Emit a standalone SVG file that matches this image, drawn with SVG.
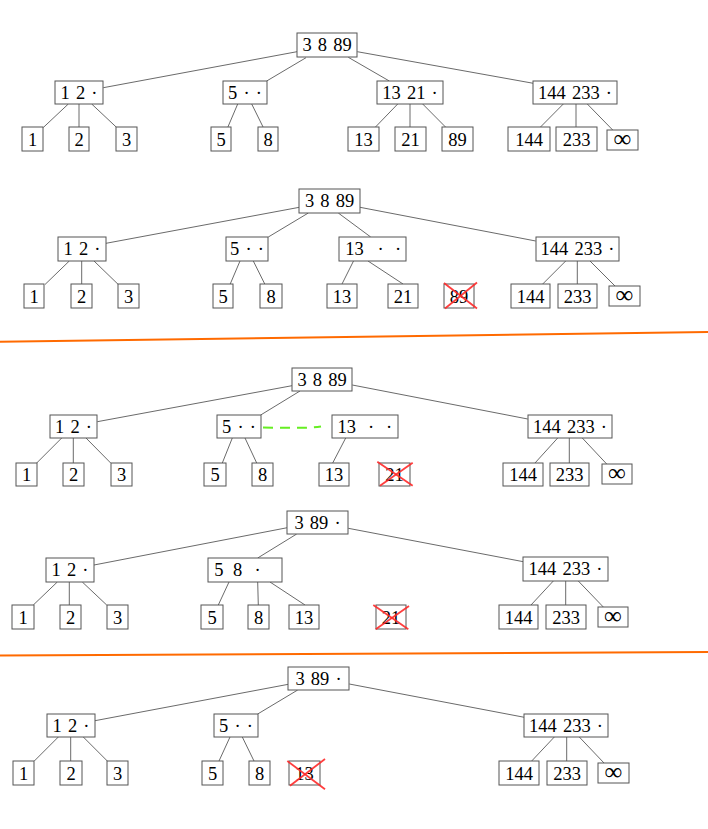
<svg xmlns="http://www.w3.org/2000/svg" width="708" height="829" viewBox="0 0 708 829">
<style>
.box{fill:#fff;stroke:#555;stroke-width:1}
.t{font-family:"Liberation Serif","Times New Roman",serif;font-size:18.5px;text-anchor:middle;fill:#000;word-spacing:1.5px}
.inf{font-family:"Liberation Serif","Times New Roman",serif;font-size:25px;text-anchor:middle;fill:#000}
.e{stroke:#444;stroke-width:0.8;fill:none}
.x{stroke:#ff2a2a;stroke-width:1.8;opacity:0.9}
.sep{stroke:#ff6a00;stroke-width:2}
.g{stroke:#66ee22;stroke-width:2;stroke-dasharray:10 7;fill:none}
</style>
<rect width="708" height="829" fill="#fff"/>
<g id="separators">
<line class="sep" x1="0" y1="341.7" x2="708" y2="332"/>
<line class="sep" x1="0" y1="655.5" x2="708" y2="652"/>
</g>
<g id="connectors">
<!-- tree 1 -->
<line class="e" x1="297" y1="51.7" x2="103.3" y2="87.7"/>
<line class="e" x1="306" y1="57.7" x2="266.7" y2="81"/>
<line class="e" x1="348.3" y1="57.3" x2="389.3" y2="81"/>
<line class="e" x1="357.3" y1="51.7" x2="533.3" y2="83.3"/>
<line class="e" x1="68.3" y1="104" x2="43.3" y2="127.5"/>
<line class="e" x1="79" y1="104" x2="79" y2="127"/>
<line class="e" x1="91.7" y1="104" x2="116.7" y2="127.5"/>
<line class="e" x1="237.7" y1="104" x2="227.7" y2="127.5"/>
<line class="e" x1="251.7" y1="104" x2="263.3" y2="127.5"/>
<line class="e" x1="397.7" y1="104" x2="375" y2="127.5"/>
<line class="e" x1="410" y1="104" x2="410" y2="127"/>
<line class="e" x1="422.7" y1="104" x2="446" y2="127.5"/>
<line class="e" x1="563.3" y1="104" x2="540" y2="127.5"/>
<line class="e" x1="576" y1="104" x2="576" y2="127"/>
<line class="e" x1="587.3" y1="104" x2="612.7" y2="130"/>
<!-- tree 2 -->
<line class="e" x1="299.3" y1="207.3" x2="106" y2="243.3"/>
<line class="e" x1="308.3" y1="213" x2="268.3" y2="237"/>
<line class="e" x1="338.3" y1="213" x2="370.7" y2="237"/>
<line class="e" x1="360" y1="207.3" x2="535.7" y2="241"/>
<line class="e" x1="69.3" y1="261" x2="45" y2="284.5"/>
<line class="e" x1="81.7" y1="261" x2="81.7" y2="284"/>
<line class="e" x1="94" y1="261" x2="118.3" y2="284.5"/>
<line class="e" x1="240" y1="261" x2="230" y2="284.5"/>
<line class="e" x1="253.3" y1="261" x2="265" y2="284.5"/>
<line class="e" x1="353.5" y1="261" x2="342" y2="284"/>
<line class="e" x1="368" y1="261" x2="403" y2="284"/>
<line class="e" x1="565.7" y1="261" x2="542.7" y2="284"/>
<line class="e" x1="577.3" y1="261" x2="577.3" y2="284"/>
<line class="e" x1="590" y1="261" x2="615" y2="286"/>
<!-- tree 3 -->
<line class="e" x1="292" y1="385.7" x2="97.3" y2="421.7"/>
<line class="e" x1="300" y1="391" x2="260.7" y2="415"/>
<line class="e" x1="352.3" y1="385" x2="527.7" y2="419"/>
<line class="e" x1="61.7" y1="438" x2="36.7" y2="463"/>
<line class="e" x1="73.3" y1="438" x2="73.3" y2="463"/>
<line class="e" x1="86" y1="438" x2="110.7" y2="463"/>
<line class="e" x1="232.3" y1="438" x2="222.3" y2="463"/>
<line class="e" x1="245" y1="438" x2="256.7" y2="463"/>
<line class="e" x1="345.7" y1="438" x2="332.7" y2="463"/>
<line class="e" x1="557.7" y1="438" x2="535" y2="463"/>
<line class="e" x1="569.3" y1="438" x2="569.3" y2="463"/>
<line class="e" x1="582.3" y1="438" x2="606.7" y2="464"/>
<path class="g" d="M263,427.6 L300,427.8 Q310,428.2 321,426.4"/>
<!-- tree 4 -->
<line class="e" x1="287.3" y1="527.7" x2="94" y2="565"/>
<line class="e" x1="296.7" y1="534" x2="257.7" y2="558"/>
<line class="e" x1="348.3" y1="528.3" x2="523.3" y2="561.7"/>
<line class="e" x1="57.3" y1="582" x2="33.3" y2="605"/>
<line class="e" x1="69.3" y1="582" x2="69.3" y2="605"/>
<line class="e" x1="82.3" y1="582" x2="106.7" y2="605"/>
<line class="e" x1="229" y1="582" x2="218.3" y2="605"/>
<line class="e" x1="257.7" y1="582" x2="258.3" y2="605"/>
<line class="e" x1="270" y1="582" x2="305" y2="605"/>
<line class="e" x1="553.3" y1="581" x2="531" y2="605"/>
<line class="e" x1="565.7" y1="581" x2="565.7" y2="605"/>
<line class="e" x1="578.3" y1="581" x2="603.3" y2="607"/>
<!-- tree 5 -->
<line class="e" x1="288.3" y1="684.3" x2="95" y2="720.7"/>
<line class="e" x1="297.7" y1="690" x2="257.7" y2="714"/>
<line class="e" x1="349.3" y1="684" x2="524.3" y2="717.3"/>
<line class="e" x1="58.3" y1="737" x2="34.3" y2="761"/>
<line class="e" x1="70.7" y1="737" x2="70.7" y2="761"/>
<line class="e" x1="83.3" y1="737" x2="107.3" y2="761"/>
<line class="e" x1="230" y1="737" x2="219" y2="761"/>
<line class="e" x1="242.3" y1="737" x2="254" y2="761"/>
<line class="e" x1="554.3" y1="737" x2="531.7" y2="761"/>
<line class="e" x1="566.7" y1="737" x2="566.7" y2="761"/>
<line class="e" x1="579.3" y1="737" x2="604" y2="763"/>
</g>

<!-- ===== Tree 1 ===== -->
<g id="t1-root"><rect class="box" x="297" y="33" width="60" height="24"/><text class="t" x="327" y="51.3">3 8 89</text></g>
<g id="t1-a"><rect class="box" x="55" y="81" width="48" height="23"/><text class="t" x="79" y="98.8">1 2 ·</text></g>
<g id="t1-b"><rect class="box" x="223" y="81" width="44" height="23"/><text class="t" x="245" y="98.8">5 · ·</text></g>
<g id="t1-c"><rect class="box" x="377" y="81" width="66" height="23"/><text class="t" x="410" y="98.8">13 21 ·</text></g>
<g id="t1-d"><rect class="box" x="533" y="81" width="84" height="23"/><text class="t" x="575" y="98.8">144 233 ·</text></g>
<g id="t1-l1"><rect class="box" x="22" y="127" width="21" height="24"/><text class="t" x="32.5" y="145.8">1</text></g>
<g id="t1-l2"><rect class="box" x="69" y="127" width="20" height="24"/><text class="t" x="79" y="145.8">2</text></g>
<g id="t1-l3"><rect class="box" x="116" y="127" width="21" height="24"/><text class="t" x="126.5" y="145.8">3</text></g>
<g id="t1-l5"><rect class="box" x="211" y="127" width="20" height="24"/><text class="t" x="221" y="145.8">5</text></g>
<g id="t1-l8"><rect class="box" x="258" y="127" width="20" height="24"/><text class="t" x="268" y="145.8">8</text></g>
<g id="t1-l13"><rect class="box" x="348" y="127" width="31" height="24"/><text class="t" x="363.5" y="145.8">13</text></g>
<g id="t1-l21"><rect class="box" x="395" y="127" width="31" height="24"/><text class="t" x="410.5" y="145.8">21</text></g>
<g id="t1-l89"><rect class="box" x="442" y="127" width="31" height="24"/><text class="t" x="457.5" y="145.8">89</text></g>
<g id="t1-l144"><rect class="box" x="508" y="127" width="42" height="24"/><text class="t" x="529" y="145.8">144</text></g>
<g id="t1-l233"><rect class="box" x="556" y="127" width="41" height="24"/><text class="t" x="576.5" y="145.8">233</text></g>
<g id="t1-linf"><rect class="box" x="607" y="130" width="31" height="20"/><text class="inf" x="622.5" y="147">∞</text></g>

<!-- ===== Tree 2 ===== -->
<g id="t2-root"><rect class="box" x="299" y="189" width="61" height="24"/><text class="t" x="329.5" y="207.3">3 8 89</text></g>
<g id="t2-a"><rect class="box" x="58" y="237" width="48" height="24"/><text class="t" x="82" y="255.3">1 2 ·</text></g>
<g id="t2-b"><rect class="box" x="226" y="237" width="42" height="24"/><text class="t" x="247" y="255.3">5 · ·</text></g>
<g id="t2-c"><rect class="box" x="339" y="237" width="67" height="24"/><text class="t" y="255.3"><tspan x="354.5">13</tspan><tspan x="380.5">·</tspan><tspan x="398">·</tspan></text></g>
<g id="t2-d"><rect class="box" x="536" y="237" width="83" height="24"/><text class="t" x="577.5" y="255.3">144 233 ·</text></g>
<g id="t2-l1"><rect class="box" x="24" y="284" width="20" height="24"/><text class="t" x="34" y="302.8">1</text></g>
<g id="t2-l2"><rect class="box" x="71" y="284" width="21" height="24"/><text class="t" x="81.5" y="302.8">2</text></g>
<g id="t2-l3"><rect class="box" x="118" y="284" width="21" height="24"/><text class="t" x="128.5" y="302.8">3</text></g>
<g id="t2-l5"><rect class="box" x="213" y="284" width="20" height="24"/><text class="t" x="223" y="302.8">5</text></g>
<g id="t2-l8"><rect class="box" x="260" y="284" width="22" height="24"/><text class="t" x="271" y="302.8">8</text></g>
<g id="t2-l13"><rect class="box" x="327" y="284" width="30" height="24"/><text class="t" x="342" y="302.8">13</text></g>
<g id="t2-l21"><rect class="box" x="388" y="284" width="30" height="24"/><text class="t" x="403" y="302.8">21</text></g>
<g id="t2-l89x"><rect class="box" x="444" y="284" width="30" height="24"/><text class="t" x="459" y="302.8">89</text><line class="x" x1="444" y1="283" x2="477" y2="308.5"/><line class="x" x1="477" y1="282.5" x2="445" y2="308.5"/></g>
<g id="t2-l144"><rect class="box" x="511" y="284" width="39" height="24"/><text class="t" x="530.5" y="302.8">144</text></g>
<g id="t2-l233"><rect class="box" x="558" y="284" width="39" height="24"/><text class="t" x="577.5" y="302.8">233</text></g>
<g id="t2-linf"><rect class="box" x="609" y="286" width="31" height="20"/><text class="inf" x="624.5" y="303">∞</text></g>

<!-- ===== Tree 3 ===== -->
<g id="t3-root"><rect class="box" x="292" y="368" width="60" height="23"/><text class="t" x="322" y="385.8">3 8 89</text></g>
<g id="t3-a"><rect class="box" x="50" y="415" width="47" height="23"/><text class="t" x="73.5" y="432.8">1 2 ·</text></g>
<g id="t3-b"><rect class="box" x="217" y="415" width="44" height="23"/><text class="t" x="239" y="432.8">5 · ·</text></g>
<g id="t3-c"><rect class="box" x="332" y="415" width="66" height="23"/><text class="t" y="432.8"><tspan x="346.7">13</tspan><tspan x="371">·</tspan><tspan x="389">·</tspan></text></g>
<g id="t3-d"><rect class="box" x="528" y="415" width="84" height="23"/><text class="t" x="570" y="432.8">144 233 ·</text></g>
<g id="t3-l1"><rect class="box" x="16" y="463" width="21" height="23"/><text class="t" x="26.5" y="481.3">1</text></g>
<g id="t3-l2"><rect class="box" x="63" y="463" width="21" height="23"/><text class="t" x="73.5" y="481.3">2</text></g>
<g id="t3-l3"><rect class="box" x="111" y="463" width="21" height="23"/><text class="t" x="121.5" y="481.3">3</text></g>
<g id="t3-l5"><rect class="box" x="204" y="463" width="22" height="23"/><text class="t" x="215" y="481.3">5</text></g>
<g id="t3-l8"><rect class="box" x="252" y="463" width="21" height="23"/><text class="t" x="262.5" y="481.3">8</text></g>
<g id="t3-l13"><rect class="box" x="319" y="463" width="30" height="23"/><text class="t" x="334" y="481.3">13</text></g>
<g id="t3-l21x"><rect class="box" x="379" y="463" width="31" height="23"/><text class="t" x="394.5" y="481.3">21</text><line class="x" x1="377.3" y1="461.7" x2="412.7" y2="485.7"/><line class="x" x1="412.7" y1="462.7" x2="380" y2="485.7"/></g>
<g id="t3-l144"><rect class="box" x="503" y="463" width="40" height="23"/><text class="t" x="523" y="481.3">144</text></g>
<g id="t3-l233"><rect class="box" x="550" y="463" width="39" height="23"/><text class="t" x="569.5" y="481.3">233</text></g>
<g id="t3-linf"><rect class="box" x="602" y="464" width="30" height="20"/><text class="inf" x="617" y="481">∞</text></g>

<!-- ===== Tree 4 ===== -->
<g id="t4-root"><rect class="box" x="287" y="511" width="61" height="23"/><text class="t" x="317.5" y="528.8">3 89 ·</text></g>
<g id="t4-a"><rect class="box" x="46" y="558" width="48" height="24"/><text class="t" x="70" y="576.3">1 2 ·</text></g>
<g id="t4-b"><rect class="box" x="208" y="558" width="74" height="24"/><text class="t" y="576.3"><tspan x="218.8">5</tspan><tspan x="237.5">8</tspan><tspan x="257.7">·</tspan></text></g>
<g id="t4-c"><rect class="box" x="523" y="557" width="85" height="24"/><text class="t" x="565.5" y="575.3">144 233 ·</text></g>
<g id="t4-l1"><rect class="box" x="12" y="605" width="22" height="24"/><text class="t" x="23" y="623.8">1</text></g>
<g id="t4-l2"><rect class="box" x="60" y="605" width="21" height="24"/><text class="t" x="70.5" y="623.8">2</text></g>
<g id="t4-l3"><rect class="box" x="107" y="605" width="21" height="24"/><text class="t" x="117.5" y="623.8">3</text></g>
<g id="t4-l5"><rect class="box" x="201" y="605" width="22" height="24"/><text class="t" x="212" y="623.8">5</text></g>
<g id="t4-l8"><rect class="box" x="248" y="605" width="21" height="24"/><text class="t" x="258.5" y="623.8">8</text></g>
<g id="t4-l13"><rect class="box" x="289" y="605" width="30" height="24"/><text class="t" x="304" y="623.8">13</text></g>
<g id="t4-l21x"><rect class="box" x="376" y="605" width="30" height="24"/><text class="t" x="391" y="623.8">21</text><line class="x" x1="373.3" y1="605" x2="408.3" y2="629.3"/><line class="x" x1="409" y1="606" x2="375.7" y2="629.3"/></g>
<g id="t4-l144"><rect class="box" x="499" y="605" width="39" height="24"/><text class="t" x="518.5" y="623.8">144</text></g>
<g id="t4-l233"><rect class="box" x="546" y="605" width="40" height="24"/><text class="t" x="566" y="623.8">233</text></g>
<g id="t4-linf"><rect class="box" x="598" y="607" width="30" height="20"/><text class="inf" x="613" y="624">∞</text></g>

<!-- ===== Tree 5 ===== -->
<g id="t5-root"><rect class="box" x="288" y="667" width="61" height="23"/><text class="t" x="318.5" y="684.8">3 89 ·</text></g>
<g id="t5-a"><rect class="box" x="47" y="714" width="48" height="23"/><text class="t" x="71" y="731.8">1 2 ·</text></g>
<g id="t5-b"><rect class="box" x="214" y="714" width="44" height="23"/><text class="t" x="236" y="731.8">5 · ·</text></g>
<g id="t5-c"><rect class="box" x="524" y="714" width="84" height="23"/><text class="t" x="566" y="731.8">144 233 ·</text></g>
<g id="t5-l1"><rect class="box" x="13" y="761" width="21" height="24"/><text class="t" x="23.5" y="779.8">1</text></g>
<g id="t5-l2"><rect class="box" x="60" y="761" width="22" height="24"/><text class="t" x="71" y="779.8">2</text></g>
<g id="t5-l3"><rect class="box" x="107" y="761" width="21" height="24"/><text class="t" x="117.5" y="779.8">3</text></g>
<g id="t5-l5"><rect class="box" x="202" y="761" width="21" height="24"/><text class="t" x="212.5" y="779.8">5</text></g>
<g id="t5-l8"><rect class="box" x="249" y="761" width="21" height="24"/><text class="t" x="259.5" y="779.8">8</text></g>
<g id="t5-l13x"><rect class="box" x="289" y="761" width="31" height="24"/><text class="t" x="304.5" y="779.8">13</text><line class="x" x1="287.3" y1="761" x2="325" y2="789.3"/><line class="x" x1="325" y1="759" x2="290" y2="785.7"/></g>
<g id="t5-l144"><rect class="box" x="499" y="761" width="40" height="24"/><text class="t" x="519" y="779.8">144</text></g>
<g id="t5-l233"><rect class="box" x="547" y="761" width="40" height="24"/><text class="t" x="567" y="779.8">233</text></g>
<g id="t5-linf"><rect class="box" x="598" y="763" width="31" height="20"/><text class="inf" x="613.5" y="780">∞</text></g>
</svg>
